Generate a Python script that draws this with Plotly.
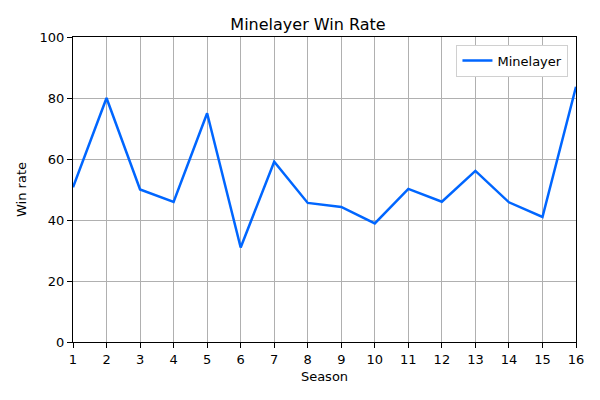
import plotly.graph_objects as go

seasons = list(range(1, 17))
win_rate = [50.7, 80.0, 50.0, 45.9, 75.0, 31.0, 59.1, 45.6, 44.3, 38.9, 50.2, 46.0, 56.1, 45.8, 41.0, 83.7]
y_ticks = [0, 20, 40, 60, 80, 100]

fig = go.Figure()
fig.add_trace(go.Scatter(x=seasons, y=win_rate, mode="lines", name="Minelayer",
                         line=dict(color="#0066ff", width=2.5)))

# the page puts the figure 7-8px in from the top-left, so margins are nudged to match
fig.update_layout(width=600, height=400, plot_bgcolor="white", paper_bgcolor="white",
                  font=dict(family="DejaVu Sans", color="black", size=13),
                  title=dict(text="Minelayer Win Rate", x=0.5, xanchor="center", y=0.96, yanchor="middle",
                             font=dict(size=16)),
                  margin=dict(l=63, r=32, t=29, b=66), showlegend=True,
                  legend=dict(x=0.985, y=0.975, xanchor="right", yanchor="top", bgcolor="white",
                              bordercolor="#d0d0d0", borderwidth=1, font=dict(size=13)))

fig.update_xaxes(title=dict(text="Season", standoff=6, font=dict(size=13)), range=[1, 16], tickvals=seasons,
                 showgrid=True, gridcolor="#b0b0b0", gridwidth=1, showline=True, linecolor="black",
                 linewidth=1, mirror=True, ticks="outside", ticklen=5, tickcolor="black", zeroline=False)
fig.update_yaxes(title=dict(text="Win rate", standoff=10, font=dict(size=13)), range=[0, 100], tickvals=y_ticks,
                 showgrid=True, gridcolor="#b0b0b0", gridwidth=1, showline=True, linecolor="black",
                 linewidth=1, mirror=True, ticks="outside", ticklen=5, tickcolor="black", zeroline=False)

fig.write_html("out.html")
